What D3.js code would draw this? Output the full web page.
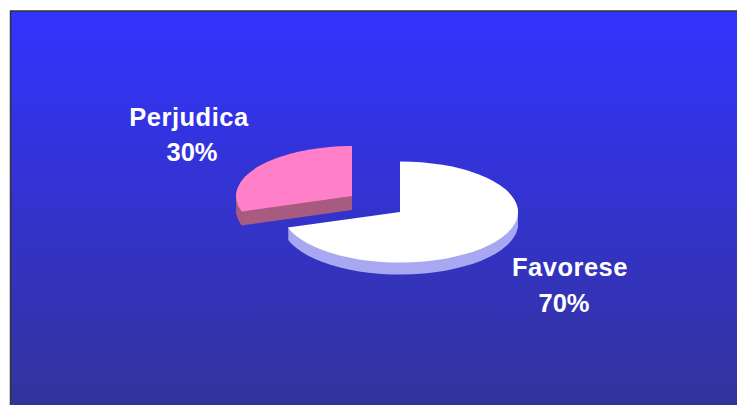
<!DOCTYPE html>
<html>
<head>
<meta charset="utf-8">
<script src="https://d3js.org/d3.v7.min.js"></script>
<style>
  html, body { margin: 0; padding: 0; background: #fff; overflow: hidden; }
  svg { display: block; }
</style>
</head>
<body>
<div id="pie"></div>
<script>
var categories = ["Favorese", "Perjudica"];
var values = [70, 30];
var valueLabels = ["70%", "30%"];

var width = 737, height = 405;

// per slice styling and placement (the pink one is pulled out)
var topColors = ["#ffffff", "#ff80c8"];
var sideColors = ["#a8a8f2", "#a85c80"];
var centers = [[400, 212], [352, 196]];
var radiiX = [118, 116];
var radiiY = [50.5, 50];
var depths = [12, 14];
var labelPos = [[570, 276, 564, 312], [189, 126, 192, 161]];

var svg = d3.select("#pie").append("svg")
    .attr("width", width)
    .attr("height", height);

var grad = svg.append("defs").append("linearGradient")
    .attr("id", "bg")
    .attr("x1", 0).attr("y1", 0)
    .attr("x2", 0).attr("y2", 1);
grad.append("stop").attr("offset", "0%").attr("stop-color", "#3333ff");
grad.append("stop").attr("offset", "100%").attr("stop-color", "#333399");

svg.append("rect")
    .attr("x", 10.5).attr("y", 11)
    .attr("width", width).attr("height", height)
    .attr("fill", "url(#bg)")
    .attr("stroke", "#333333")
    .attr("stroke-width", 1.5);

var pie = d3.pie().sort(null).value(function(d) { return d; });
var slices = pie(values);

// unit circle, squashed to an ellipse with the transform
var arc = d3.arc().innerRadius(0).outerRadius(1);

function place(i, dy) {
  return "translate(" + centers[i][0] + "," + (centers[i][1] + dy) + ") scale(" + radiiX[i] + "," + radiiY[i] + ")";
}

var g = svg.selectAll("g.slice")
    .data(slices)
    .enter().append("g")
    .attr("class", "slice");

// side wall: same shape stacked pixel by pixel
g.each(function(d, i) {
  var sel = d3.select(this);
  d3.range(depths[i], 0, -1).forEach(function(dy) {
    sel.append("path")
      .attr("d", arc(d))
      .attr("transform", place(i, dy))
      .attr("fill", sideColors[i]);
  });
});

g.append("path")
    .attr("d", arc)
    .attr("transform", function(d, i) { return place(i, 0); })
    .attr("fill", function(d, i) { return topColors[i]; });

function addLabel(txt, x, y, spacing) {
  svg.append("text")
    .attr("x", x)
    .attr("y", y)
    .attr("text-anchor", "middle")
    .attr("font-family", "'Liberation Sans', Arial, sans-serif")
    .attr("font-weight", "bold")
    .attr("font-size", 25.5)
    .attr("letter-spacing", spacing)
    .attr("fill", "#ffffff")
    .text(txt);
}

categories.forEach(function(name, i) {
  addLabel(name, labelPos[i][0], labelPos[i][1], 0.5);
  addLabel(valueLabels[i], labelPos[i][2], labelPos[i][3], 0);
});
</script>
</body>
</html>
